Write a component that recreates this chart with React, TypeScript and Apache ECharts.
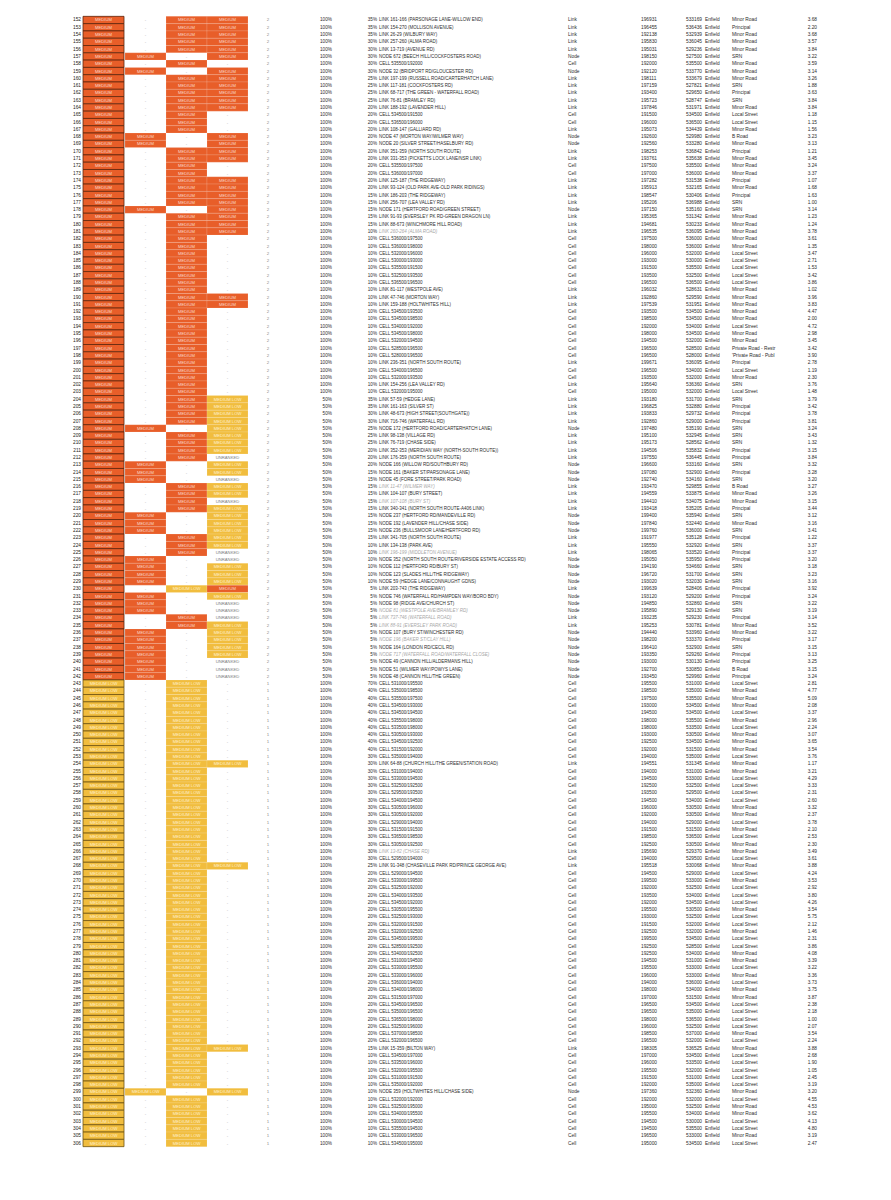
import React, { useEffect, useRef } from "react";
import * as echarts from "echarts";

// ---------- DATA ----------
const ROWS = [
  152, 153, 154, 155, 156, 157, 158, 159, 160, 161,
  162, 163, 164, 165, 166, 167, 168, 169, 170, 171,
  172, 173, 174, 175, 176, 177, 178, 179, 180, 181,
  182, 183, 184, 185, 186, 187, 188, 189, 190, 191,
  192, 193, 194, 195, 196, 197, 198, 199, 200, 201,
  202, 203, 204, 205, 206, 207, 208, 209, 210, 211,
  212, 213, 214, 215, 216, 217, 218, 219, 220, 221,
  222, 223, 224, 225, 226, 227, 228, 229, 230, 231,
  232, 233, 234, 235, 236, 237, 238, 239, 240, 241,
  242, 243, 244, 245, 246, 247, 248, 249, 250, 251,
  252, 253, 254, 255, 256, 257, 258, 259, 260, 261,
  262, 263, 264, 265, 266, 267, 268, 269, 270, 271,
  272, 273, 274, 275, 276, 277, 278, 279, 280, 281,
  282, 283, 284, 285, 286, 287, 288, 289, 290, 291,
  292, 293, 294, 295, 296, 297, 298, 299, 300, 301,
  302, 303, 304, 305, 306,
];

// M = MEDIUM, L = MEDIUM LOW, U = UNRANKED, - = empty
const COL_A = [
  "MMMMMMMMMM", "MMMMMMMMMM", "MMMMMMMMMM", "MMMMMMMMMM", "MMMMMMMMMM",
  "MMMMMMMMMM", "MMMMMMMMMM", "MMMMMMMMMM", "MMMMMMMMMM", "MLLLLLLLLL",
  "LLLLLLLLLL", "LLLLLLLLLL", "LLLLLLLLLL", "LLLLLLLLLL", "LLLLLLLLLL", "LLLLL",
].join("").split("");
const COL_B = [
  "-----M-M--", "------MM--", "------M---", "----------", "----------",
  "------M---", "-MMM----MM", "M---MMMM-M", "MM--MMMMMM", "M---------",
  "----------", "----------", "----------", "----------", "-------L--", "-----",
].join("").split("");
const COL_C = [
  "MMMMM-M-MM", "MMMMMM--MM", "MMMMMM-MMM", "MMMMMMMMMM", "MMMMMMMMMM",
  "MMMMMM-MMM", "M---MMMM--", "-MMM----L-", "--MM------", "-LLLLLLLLL",
  "LLLLLLLLLL", "LLLLLLLLLL", "LLLLLLLLLL", "LLLLLLLLLL", "LLLLLLL-LL", "LLLLL",
].join("").split("");
const COL_D = [
  "MMMMMM-MMM", "MMM---MMMM", "--MMMMMMMM", "--------MM", "----------",
  "--LLLLLLLL", "ULLULLULLL", "LLLUULLLML", "UUULLLLLUU", "U---------",
  "--L-------", "------L---", "----------", "----------", "-L-----L--", "-----",
].join("").split("");

const COUNT = [
  "2222222222", "2222222222", "2222222222", "2222222222", "2222222222",
  "2222222222", "2222222222", "2222222222", "2222222222", "2111111111",
  "1111111111", "1111111111", "1111111111", "1111111111", "1111111111", "11111",
].join("").split("");

// H = 100%, F = 50%
const SHARE = [
  "HHHHHHHHHH", "HHHHHHHHHH", "HHHHHHHHHH", "HHHHHHHHHH", "HHHHHHHHHH",
  "HHFFFFFFFF", "FFFFFFFFFF", "FFFFFFFFFF", "FFFFFFFFFF", "FHHHHHHHHH",
  "HHHHHHHHHH", "HHHHHHHHHH", "HHHHHHHHHH", "HHHHHHHHHH", "HHHHHHHHHH", "HHHHH",
].join("").split("");

const DESC_PCT = [
  35, 35, 35, 30, 30, 30, 30, 30, 25, 25,
  25, 25, 20, 20, 20, 20, 20, 20, 20, 20,
  20, 20, 20, 20, 15, 15, 15, 15, 15, 10,
  10, 10, 10, 10, 10, 10, 10, 10, 10, 10,
  10, 10, 10, 10, 10, 10, 10, 10, 10, 10,
  10, 10, 35, 35, 30, 30, 25, 25, 25, 20,
  20, 20, 15, 15, 15, 15, 15, 15, 15, 15,
  15, 15, 10, 10, 10, 10, 10, 10, 5, 5,
  5, 5, 5, 5, 5, 5, 5, 5, 5, 5,
  5, 70, 40, 40, 40, 40, 40, 40, 40, 40,
  40, 30, 30, 30, 30, 30, 30, 30, 30, 30,
  30, 30, 30, 30, 30, 30, 25, 20, 20, 20,
  20, 20, 20, 20, 20, 20, 20, 20, 20, 20,
  20, 20, 20, 20, 20, 20, 20, 20, 20, 20,
  20, 15, 10, 10, 10, 10, 10, 10, 10, 10,
  10, 10, 10, 10, 10,
];

const DESC = [
  "LINK 161-166 (PARSONAGE LANE-WILLOW END)",
  "LINK 154-270 (MOLLISON AVENUE)",
  "LINK 26-29 (WILBURY WAY)",
  "LINK 257-260 (ALMA ROAD)",
  "LINK 13-719 (AVENUE RD)",
  "NODE 672 (BEECH HILL/COCKFOSTERS ROAD)",
  "CELL 535500/192000",
  "NODE 32 (BRIDPORT RD/GLOUCESTER RD)",
  "LINK 197-199 (RUSSELL ROAD/CARTERHATCH LANE)",
  "LINK 117-181 (COCKFOSTERS RD)",
  "LINK 68-717 (THE GREEN - WATERFALL ROAD)",
  "LINK 76-81 (BRAMLEY RD)",
  "LINK 188-192 (LAVENDER HILL)",
  "CELL 534500/191500",
  "CELL 536500/196000",
  "LINK 108-147 (GALLIARD RD)",
  "NODE 47 (MORTON WAY/WILMER WAY)",
  "NODE 20 (SILVER STREET/HASELBURY RD)",
  "LINK 351-359 (NORTH SOUTH ROUTE)",
  "LINK 331-353 (PICKETTS LOCK LANE/NSR LINK)",
  "CELL 535500/197500",
  "CELL 536000/197000",
  "LINK 125-187 (THE RIDGEWAY)",
  "LINK 93-124 (OLD PARK AVE-OLD PARK RIDINGS)",
  "LINK 186-203 (THE RIDGEWAY)",
  "LINK 256-707 (LEA VALLEY RD)",
  "NODE 171 (HERTFORD ROAD/GREEN STREET)",
  "LINK 91-93 (EVERSLEY PK RD-GREEN DRAGON LN)",
  "LINK 88-673 (WINCHMORE HILL ROAD)",
  "LINK 260-264 (ALMA ROAD)",
  "CELL 536000/197500",
  "CELL 536000/198000",
  "CELL 532000/196000",
  "CELL 530000/193000",
  "CELL 535500/191500",
  "CELL 532500/193500",
  "CELL 536500/196500",
  "LINK 81-117 (WESTPOLE AVE)",
  "LINK 47-746 (MORTON WAY)",
  "LINK 159-188 (HOLTWHITES HILL)",
  "CELL 534500/193500",
  "CELL 534500/198500",
  "CELL 534000/192000",
  "CELL 534500/198000",
  "CELL 532000/194500",
  "CELL 528500/196500",
  "CELL 528000/196500",
  "LINK 236-351 (NORTH SOUTH ROUTE)",
  "CELL 534000/196500",
  "CELL 532000/193500",
  "LINK 154-256 (LEA VALLEY RD)",
  "CELL 532000/195000",
  "LINK 57-59 (HEDGE LANE)",
  "LINK 161-163 (SILVER ST)",
  "LINK 48-673 (HIGH STREET(SOUTHGATE))",
  "LINK 716-746 (WATERFALL RD)",
  "NODE 172 (HERTFORD ROAD/CARTERHATCH LANE)",
  "LINK 98-138 (VILLAGE RD)",
  "LINK 76-719 (CHASE SIDE)",
  "LINK 352-353 (MERIDIAN WAY (NORTH-SOUTH ROUTE))",
  "LINK 176-359 (NORTH SOUTH ROUTE)",
  "NODE 166 (WILLOW RD/SOUTHBURY RD)",
  "NODE 161 (BAKER ST/PARSONAGE LANE)",
  "NODE 45 (FORE STREET/PARK ROAD)",
  "LINK 11-47 (WILMER WAY)",
  "LINK 104-107 (BURY STREET)",
  "LINK 107-108 (BURY ST)",
  "LINK 340-341 (NORTH SOUTH ROUTE-A406 LINK)",
  "NODE 237 (HERTFORD RD/MANDEVILLE RD)",
  "NODE 192 (LAVENDER HILL/CHASE SIDE)",
  "NODE 236 (BULLSMOOR LANE/HERTFORD RD)",
  "LINK 341-705 (NORTH SOUTH ROUTE)",
  "LINK 134-138 (PARK AVE)",
  "LINK 196-199 (MIDDLETON AVENUE)",
  "NODE 352 (NORTH SOUTH ROUTE/RIVERSIDE ESTATE ACCESS RD)",
  "NODE 112 (HERTFORD RD/BURY ST)",
  "NODE 123 (SLADES HILL/THE RIDGEWAY)",
  "NODE 59 (HEDGE LANE/CONNAUGHT GDNS)",
  "LINK 203-743 (THE RIDGEWAY)",
  "NODE 746 (WATERFALL RD/HAMPDEN WAY/BORO BDY)",
  "NODE 98 (RIDGE AVE/CHURCH ST)",
  "NODE 81 (WESTPOLE AVE/BRAMLEY RD)",
  "LINK 737-746 (WATERFALL ROAD)",
  "LINK 88-91 (EVERSLEY PARK ROAD)",
  "NODE 107 (BURY ST/WINCHESTER RD)",
  "NODE 196 (BAKER ST/CLAY HILL)",
  "NODE 164 (LONDON RD/CECIL RD)",
  "NODE 717 (WATERFALL ROAD/WATERFALL CLOSE)",
  "NODE 49 (CANNON HILL/ALDERMANS HILL)",
  "NODE 51 (WILMER WAY/POWYS LANE)",
  "NODE 48 (CANNON HILL/THE GREEN)",
  "CELL 531000/195500",
  "CELL 535000/198500",
  "CELL 535500/197500",
  "CELL 534500/193000",
  "CELL 534500/194500",
  "CELL 535500/198000",
  "CELL 533500/198000",
  "CELL 530500/193000",
  "CELL 534500/192500",
  "CELL 531500/192000",
  "CELL 535000/194000",
  "LINK 64-88 (CHURCH HILL/THE GREEN/STATION ROAD)",
  "CELL 531000/194000",
  "CELL 533000/194500",
  "CELL 532500/192500",
  "CELL 529500/193500",
  "CELL 534000/194500",
  "CELL 530500/196000",
  "CELL 530500/192000",
  "CELL 529000/194000",
  "CELL 531500/191500",
  "CELL 536500/198500",
  "CELL 530500/192500",
  "LINK 13-82 (CHASE RD)",
  "CELL 529500/194000",
  "LINK 91-348 (CHASEVILLE PARK RD/PRINCE GEORGE AVE)",
  "CELL 529000/194500",
  "CELL 533000/199500",
  "CELL 532500/192000",
  "CELL 534000/193500",
  "CELL 534500/192000",
  "CELL 530500/195500",
  "CELL 532500/193000",
  "CELL 532000/191500",
  "CELL 532000/192500",
  "CELL 534500/199500",
  "CELL 528500/192500",
  "CELL 534000/192500",
  "CELL 531000/194500",
  "CELL 533000/195500",
  "CELL 533000/196000",
  "CELL 536000/194000",
  "CELL 534000/198000",
  "CELL 531500/197000",
  "CELL 534500/196500",
  "CELL 535000/196500",
  "CELL 536500/198000",
  "CELL 532500/196000",
  "CELL 537000/198500",
  "CELL 532000/196500",
  "LINK 15-359 (BILTON WAY)",
  "CELL 534500/197000",
  "CELL 533500/196000",
  "CELL 532000/195500",
  "CELL 531000/191500",
  "CELL 535000/192000",
  "NODE 359 (HOLTWHITES HILL/CHASE SIDE)",
  "CELL 532000/192000",
  "CELL 532500/195000",
  "CELL 534000/195500",
  "CELL 530000/194500",
  "CELL 535500/194500",
  "CELL 533000/196500",
  "CELL 534500/195000",
];

// rows whose description is greyed out
const GREY_ROWS = [181, 216, 218, 225, 233, 234, 235, 237, 239, 266];

// K = Link, N = Node, C = Cell
const TYPE_NAMES: Record<string, string> = { K: "Link", N: "Node", C: "Cell" };
const TYPE = [
  "KKKKKNCNKK", "KKKCCKNNKK", "CCKKKKNKKK", "CCCCCCCKKK", "CCCCCCCKCC",
  "KCKKKKNKKK", "KNNNKKKKNN", "NKKKNNNNKN", "NNKKNNNNNN", "NCCCCCCCCC",
  "CCKCCCCCCC", "CCCCKCKCCC", "CCCCCCCCCC", "CCCCCCCCCC", "CKCCCCCNCC", "CCCCC",
].join("").split("");

const NUM1 = [
  196931, 196455, 192138, 195830, 195031, 198150, 192000, 192120, 198111, 197159,
  193400, 195723, 197846, 191500, 196000, 195073, 192600, 192560, 198253, 193761,
  197500, 197000, 197282, 195913, 198547, 195206, 197150, 195365, 194681, 196535,
  197500, 198000, 196000, 193000, 191500, 193500, 196500, 196032, 192860, 197539,
  193500, 198500, 192000, 198000, 194500, 196500, 196500, 199671, 196500, 193500,
  195640, 195000, 193180, 196825, 193833, 192860, 197480, 195100, 195173, 194506,
  197550, 196600, 197080, 192740, 193470, 194559, 194410, 193418, 199400, 197840,
  199760, 191977, 195550, 198065, 195050, 194190, 196720, 193020, 199639, 193120,
  194850, 195890, 193235, 195253, 194440, 198200, 196410, 193350, 193000, 192700,
  193450, 195500, 198500, 197500, 193000, 194500, 198000, 198000, 193000, 192500,
  192000, 194000, 194551, 194000, 194500, 192500, 193500, 194500, 196000, 192000,
  194000, 191500, 198500, 192500, 195690, 194000, 195518, 194500, 199500, 192000,
  193500, 192000, 195500, 193000, 191500, 192500, 199500, 192500, 192500, 194500,
  195500, 196000, 194000, 198000, 197000, 196500, 196500, 198000, 196000, 198500,
  196500, 198305, 197000, 196000, 195500, 191500, 192000, 197360, 192000, 195000,
  195500, 194500, 194500, 196500, 195000,
];

const NUM2 = [
  533169, 536436, 532939, 536045, 529236, 527500, 535500, 533770, 533679, 527821,
  529650, 528747, 531971, 534500, 536500, 534439, 529980, 533280, 536842, 535638,
  535500, 536000, 531538, 532165, 530406, 536988, 535160, 531342, 530233, 536095,
  536000, 536000, 532000, 530000, 535500, 532500, 536500, 528631, 529590, 531951,
  534500, 534500, 534000, 534500, 532000, 528500, 528000, 536095, 534000, 532000,
  536360, 532000, 531700, 532880, 529732, 529000, 535190, 532945, 528562, 535832,
  536445, 533160, 532900, 534160, 529855, 533875, 534075, 535205, 535940, 532440,
  536000, 535128, 532920, 533520, 535950, 534660, 531700, 532030, 528406, 529200,
  532860, 529130, 529230, 530781, 533960, 533370, 532900, 529260, 530130, 530850,
  529960, 531000, 535000, 535500, 534500, 534500, 535500, 533500, 530500, 534500,
  531500, 535000, 531345, 531000, 533000, 532500, 529500, 534000, 530500, 530500,
  529000, 531500, 536500, 530500, 529370, 529500, 530068, 529000, 533000, 532500,
  534000, 534500, 530500, 532500, 532000, 532000, 534500, 528500, 534000, 531000,
  533000, 533000, 536000, 534000, 531500, 534500, 535000, 536500, 532500, 537000,
  532000, 536525, 534500, 533500, 532000, 531000, 535000, 532360, 532000, 532500,
  534000, 530000, 535500, 533000, 534500,
];

const AREA = "Enfield";

// m Minor Road, p Principal, s SRN, l Local Street, b B Road, r/q private roads
const ROAD_NAMES: Record<string, string> = {
  m: "Minor Road",
  p: "Principal",
  s: "SRN",
  l: "Local Street",
  b: "B Road",
  r: "Private Road - Restr",
  q: "'Private Road - Publ",
};
const ROAD = [
  "mpmmmsmmms", "psmllmbmpm", "mmpmpssmmm", "mmlllllmmm", "mmlmmrqplm",
  "slspppsssp", "pspsbmmpsm", "spsppssspp", "sspmmpsppb", "plmmmlmlmm",
  "mlmmllllmm", "lmlmmlmlml", "llmllmllmm", "lmlmmllllm", "lmlllllmlm", "mllml",
].join("").split("");

const VALUE = [
  3.68, 2.2, 3.68, 3.57, 3.84, 3.22, 3.59, 3.14, 3.26, 1.88,
  3.63, 3.84, 3.84, 1.18, 1.15, 1.56, 3.23, 3.13, 1.21, 3.45,
  3.24, 3.37, 1.07, 1.68, 1.63, 1.0, 3.14, 1.23, 1.24, 3.78,
  3.61, 1.35, 3.47, 2.71, 1.53, 3.42, 3.86, 1.02, 3.96, 3.83,
  4.47, 2.0, 4.72, 2.98, 3.45, 3.42, 3.9, 2.78, 1.19, 2.3,
  3.76, 1.48, 3.79, 3.42, 3.78, 3.81, 3.24, 3.43, 1.32, 3.15,
  3.84, 3.32, 3.28, 3.2, 3.27, 3.26, 3.15, 3.44, 3.12, 3.16,
  3.41, 1.22, 3.37, 3.37, 3.2, 3.18, 3.23, 3.16, 3.92, 3.24,
  3.22, 3.19, 3.14, 3.52, 3.22, 3.17, 3.15, 3.13, 3.25, 3.15,
  3.24, 2.81, 4.77, 5.09, 2.08, 3.37, 2.96, 2.24, 3.07, 3.65,
  3.54, 3.76, 1.17, 3.21, 4.29, 3.33, 2.31, 2.6, 3.32, 2.37,
  3.78, 2.1, 2.53, 2.3, 3.49, 3.61, 3.88, 4.24, 3.53, 2.92,
  3.8, 4.26, 3.54, 5.75, 2.12, 1.46, 2.31, 3.86, 4.08, 3.39,
  3.22, 3.36, 3.73, 3.75, 3.87, 2.38, 2.18, 1.0, 2.07, 3.54,
  2.24, 3.88, 2.68, 1.9, 1.05, 2.45, 3.19, 3.2, 4.55, 4.53,
  3.62, 4.13, 4.8, 3.19, 2.47,
];

// ---------- STYLE / LAYOUT ----------
const ORANGE = "#E85E29";
const YELLOW = "#F1BD3E";
const FONT = "'Liberation Sans', Arial, sans-serif";
const INK = "#2c2c2c";
const CELL_LEFT = [83, 125, 166, 207];
const CELL_W = 41;
const X_ROWNUM = 81;
const X_COUNT = 268;
const X_SHARE = 332;
const X_DPCT = 377;
const X_DESC = 379;
const X_TYPE = 568;
const X_NUM1 = 641;
const X_NUM2 = 686;
const X_AREA = 705;
const X_ROAD = 732;
const X_VALUE = 817;

function txt(x: number, y: number, s: string, align: string, fill: string, size: number, italic = false) {
  return {
    type: "text",
    silent: true,
    x,
    y,
    style: {
      text: s,
      fill,
      fontSize: size,
      fontFamily: FONT,
      fontStyle: italic ? "italic" : "normal",
      align,
      verticalAlign: "middle",
      textAlign: align,
      textVerticalAlign: "middle",
    },
  };
}

export default function App() {
  const ref = useRef<HTMLDivElement>(null);

  useEffect(() => {
    if (!ref.current) return;
    const chart = echarts.init(ref.current, undefined, { renderer: "svg" });

    const renderItem = (params: any, api: any) => {
      const i = params.dataIndex;
      const yc = api.coord([0, i])[1];
      const h = api.size([0, 1])[1];
      const top = yc - h / 2;
      const X = (v: number) => api.coord([v, i])[0];
      const children: any[] = [];

      children.push(txt(X(X_ROWNUM), yc, String(ROWS[i]), "right", "#222", 4.8));

      const cells = [COL_A[i], COL_B[i], COL_C[i], COL_D[i]];
      cells.forEach((c, k) => {
        const x0 = X(CELL_LEFT[k]);
        const x1 = X(CELL_LEFT[k] + CELL_W);
        const cx = (x0 + x1) / 2;
        if (c === "M" || c === "L") {
          children.push({
            type: "rect",
            silent: true,
            shape: { x: x0, y: top, width: x1 - x0, height: h },
            style: {
              fill: c === "M" ? ORANGE : YELLOW,
              stroke: k === 0 ? (c === "M" ? "#5e260d" : "#6e5412") : "rgba(255,255,255,0.35)",
              lineWidth: k === 0 ? 0.8 : 0.4,
            },
          });
          children.push(
            txt(cx, yc, c === "M" ? "MEDIUM" : "MEDIUM LOW", "center", c === "M" ? "#f9d9c8" : "#fff1cf", 4.2)
          );
        } else if (c === "U") {
          children.push(txt(cx, yc, "UNRANKED", "center", "#808080", 4.2));
        } else {
          children.push(txt(cx, yc, "-", "center", "#9a9a9a", 4.2));
        }
      });

      children.push(txt(X(X_COUNT), yc, COUNT[i], "center", "#8a8a8a", 4.4));
      children.push(txt(X(X_SHARE), yc, SHARE[i] === "H" ? "100%" : "50%", "right", INK, 4.7));
      children.push(txt(X(X_DPCT), yc, DESC_PCT[i] + "%", "right", INK, 4.6));
      const grey = GREY_ROWS.indexOf(ROWS[i]) >= 0;
      children.push(txt(X(X_DESC), yc, DESC[i], "left", grey ? "#a8a8a8" : INK, 4.5, grey));
      children.push(txt(X(X_TYPE), yc, TYPE_NAMES[TYPE[i]], "left", INK, 4.8));
      children.push(txt(X(X_NUM1), yc, String(NUM1[i]), "left", INK, 4.8));
      children.push(txt(X(X_NUM2), yc, String(NUM2[i]), "left", INK, 4.8));
      children.push(txt(X(X_AREA), yc, AREA, "left", INK, 4.8));
      children.push(txt(X(X_ROAD), yc, ROAD_NAMES[ROAD[i]], "left", INK, 4.8));
      children.push(txt(X(X_VALUE), yc, VALUE[i].toFixed(2), "right", INK, 4.8));

      return { type: "group", children };
    };

    chart.setOption({
      animation: false,
      backgroundColor: "#ffffff",
      grid: { left: 0, right: 0, top: 16.35, bottom: 53.35 },
      xAxis: { type: "value", min: 0, max: 891, show: false },
      yAxis: {
        type: "category",
        data: ROWS.map(String),
        inverse: true,
        show: false,
      },
      series: [
        {
          type: "custom",
          clip: false,
          silent: true,
          renderItem,
          encode: { x: 0, y: 1 },
          data: ROWS.map((_, i) => [0, i]),
        },
      ],
    });

    return () => chart.dispose();
  }, []);

  return (
    <div
      ref={ref}
      style={{ position: "absolute", left: 0, top: 0, width: 891, height: 1200, background: "#fff" }}
    />
  );
}
